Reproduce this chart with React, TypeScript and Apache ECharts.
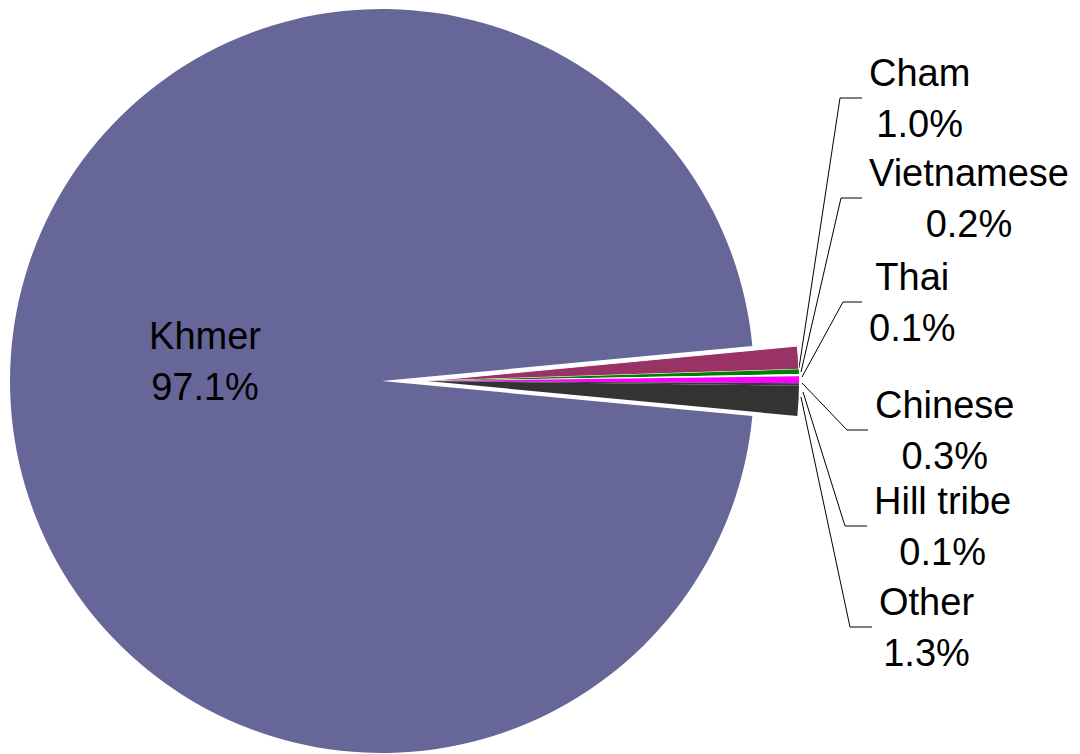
import React, { useEffect, useRef } from 'react';
import * as echarts from 'echarts';

// ---- data ----
const minorCategories = ['Cham', 'Vietnamese', 'Thai', 'Chinese', 'Hill tribe', 'Other'];
const minorValues = [1.0, 0.2, 0.1, 0.3, 0.1, 1.3];
const majorCategory = 'Khmer';
const majorValue = 97.1;

// ---- styles / layout ----
const minorColors = ['#993366', '#008000', '#fafafa', '#ff00ff', '#3a3a3a', '#333333'];
const minorBorders = [1, 0, 0, 0, 0, 0];
const majorColor = '#666699';
const CY = 381;
const R = 372;
const CX_MAIN = 382;
const CX_MINOR = 427;
const LABEL_Y = [98, 198, 302, 430, 526, 627];
const KNEE_X = [840, 841, 843, 847, 845, 850];
const END_X = [862, 862, 862, 868, 867, 872];
const START_PTS: number[][] = [[799, 368], [801, 372], [802, 377], [802, 383], [803, 392], [801, 397]];
const FONT = { fontFamily: 'Liberation Sans, Arial, sans-serif', fontSize: 38, lineHeight: 51, color: '#000' };

export default function App() {
  const ref = useRef<HTMLDivElement>(null);
  useEffect(() => {
    document.body.style.margin = '0';
    if (!ref.current) return;
    const chart = echarts.init(ref.current, undefined, { renderer: 'svg' });
    const minorTotal = minorValues.reduce((a, b) => a + b, 0);
    const total = minorTotal + majorValue;
    const startAngle = (minorTotal / total) * 180;
    const fmt = (p: any) => `${p.name}\n${Number(p.value).toFixed(1)}%`;

    const hidden = {
      itemStyle: { color: 'rgba(0,0,0,0)', borderWidth: 0 },
      label: { show: false },
      labelLine: { show: false },
    };

    chart.setOption({
      animation: false,
      backgroundColor: '#ffffff',
      series: [
        {
          type: 'pie',
          center: [CX_MAIN, CY],
          radius: R,
          startAngle,
          clockwise: true,
          silent: true,
          avoidLabelOverlap: false,
          emphasis: { disabled: true },
          label: { show: true, position: 'inside', formatter: fmt, ...FONT, align: 'center' },
          labelLine: { show: false },
          labelLayout: (params: any) =>
            params.dataIndex === 1
              ? { x: CX_MAIN - 177, y: CY - 20, align: 'center', verticalAlign: 'middle' }
              : {},
          data: [
            { name: '__gap', value: minorTotal, ...hidden },
            { name: majorCategory, value: majorValue, itemStyle: { color: majorColor, borderWidth: 0 } },
          ],
        },
        {
          type: 'pie',
          center: [CX_MINOR, CY],
          radius: R,
          startAngle,
          clockwise: true,
          silent: true,
          avoidLabelOverlap: false,
          emphasis: { disabled: true },
          label: { show: true, position: 'outside', formatter: fmt, ...FONT, align: 'center', overflow: 'none' },
          labelLine: { show: true, length: 10, length2: 10, lineStyle: { color: '#000', width: 1 } },
          labelLayout: (params: any) => {
            const i = params.dataIndex;
            if (i >= minorCategories.length) return {};
            const w = params.labelRect.width;
            return {
              x: END_X[i] + 7 + w / 2,
              y: LABEL_Y[i],
              align: 'center',
              verticalAlign: 'middle',
              labelLinePoints: [START_PTS[i], [KNEE_X[i], LABEL_Y[i]], [END_X[i], LABEL_Y[i]]],
            };
          },
          data: [
            ...minorCategories.map((name, i) => ({
              name,
              value: minorValues[i],
              itemStyle: { color: minorColors[i], borderColor: '#ffffff', borderWidth: minorBorders[i] },
            })),
            { name: '__rest', value: majorValue, ...hidden },
          ],
        },
      ],
    });
    return () => chart.dispose();
  }, []);
  return <div ref={ref} style={{ width: 1080, height: 754 }} />;
}
